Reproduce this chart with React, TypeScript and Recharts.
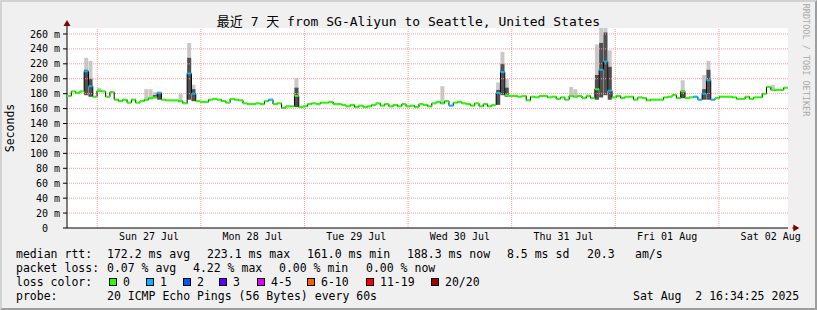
import React from 'react';
import { ComposedChart, Line, Bar, XAxis, YAxis, CartesianGrid, ReferenceDot, ReferenceLine } from 'recharts';

// median rtt per hour (ms), oldest first
const median = [
  177, 183, 181, 183, 210, 190, 176, 184, 183, 176,
  182, 172, 170, 172, 168, 172, 168, 170, 172, 174,
  175, 181, 172, 171, 171, 171, 170, 167, 207, 180,
  170, 169, 169, 172, 173, 172, 170, 168, 173, 172,
  171, 167, 166, 166, 167, 166, 170, 172, 166, 167,
  161, 163, 163, 177, 162, 163, 166, 167, 166, 168,
  168, 169, 166, 166, 165, 163, 165, 162, 164, 162,
  163, 165, 167, 164, 166, 163, 165, 163, 166, 163,
  164, 162, 166, 165, 163, 167, 169, 167, 170, 164,
  168, 169, 167, 166, 164, 167, 163, 166, 163, 165,
  181, 209, 178, 177, 177, 176, 177, 171, 176, 175,
  177, 177, 175, 176, 173, 175, 172, 177, 176, 177,
  174, 177, 174, 186, 212, 223, 184, 175, 177, 174,
  176, 176, 172, 175, 174, 171, 172, 172, 172, 175,
  176, 178, 174, 183, 174, 175, 176, 172, 180, 198,
  172, 174, 176, 176, 176, 175, 173, 173, 176, 173,
  175, 175, 180, 189, 185, 185, 185, 188,
];

// hours with packet loss, and how many of 20 pings were lost
const lossHours = [4, 5, 21, 28, 29, 47, 89, 100, 101, 124, 125, 126, 146, 147, 148, 149, 150];
const lossCounts = [1, 1, 1, 1, 1, 1, 1, 1, 1, 1, 1, 1, 1, 1, 1, 1, 1];

// smoke (spread of the pings) where it is visible
const smokeHours = [4, 5, 7, 18, 19, 20, 21, 26, 28, 29, 53, 87, 100, 101, 102, 117, 118, 123, 124, 125, 126, 143, 148, 149, 164];
const smokeLow = [178, 176, 182, 170, 172, 174, 172, 168, 172, 170, 162, 166, 165, 178, 176, 175, 175, 172, 175, 178, 172, 174, 172, 172, 184];
const smokeMid = [212, 200, 182, 170, 172, 178, 180, 168, 228, 186, 188, 166, 185, 220, 188, 175, 175, 205, 248, 262, 216, 184, 186, 212, 184];
const smokeHigh = [228, 224, 188, 186, 186, 182, 183, 180, 248, 192, 201, 190, 195, 236, 200, 189, 186, 246, 268, 268, 238, 198, 205, 224, 192];

const dayLabels = ['Sun 27 Jul', 'Mon 28 Jul', 'Tue 29 Jul', 'Wed 30 Jul', 'Thu 31 Jul', 'Fri 01 Aug', 'Sat 02 Aug'];
const labelHours = [19, 43, 67, 91, 115, 139, 163];
const midnightHours = [7, 31, 55, 79, 103, 127, 151];
const sixHourTicks = [1, 13, 19, 25, 37, 43, 49, 61, 67, 73, 85, 91, 97, 109, 115, 121, 133, 139, 145, 157, 163];
const majorTicks = [0, 20, 40, 60, 80, 100, 120, 140, 160, 180, 200, 220, 240, 260];
const minorTicks = [10, 30, 50, 70, 90, 110, 130, 150, 170, 190, 210, 230, 250];

const rttStats = ['172.2 ms avg', '223.1 ms max', '161.0 ms min', '188.3 ms now', '8.5 ms sd', '20.3', 'am/s'];
const lossStats = ['0.07 % avg', '4.22 % max', '0.00 % min', '0.00 % now'];
const lossLabels = ['0', '1', '2', '3', '4-5', '6-10', '11-19', '20/20'];
const lossColors = ['#26ff00', '#00b8ff', '#0059ff', '#5e00ff', '#dd00ff', '#ff5e00', '#ff0000', '#a10000'];

const FONT = '"DejaVu Sans Mono", "Noto Sans CJK SC", monospace';
const W = 817;
const H = 310;
const MARGIN = { top: 28, right: 29, bottom: 62, left: 7 };
const Y_AXIS_W = 60;
const X_AXIS_H = 20;
const PLOT_W = W - MARGIN.left - MARGIN.right - Y_AXIS_W;
const PLOT_H = H - MARGIN.top - MARGIN.bottom - X_AXIS_H;
const BAND = PLOT_W / median.length;
const MAJOR_GRID = '#ff9a9a';

const lossBucket = (n: number) => {
  if (n <= 3) return n;
  if (n <= 5) return 4;
  if (n <= 10) return 5;
  if (n <= 19) return 6;
  return 7;
};

const rows = median.map((m, i) => {
  const li = lossHours.indexOf(i);
  const si = smokeHours.indexOf(i);
  return {
    h: i,
    median: m,
    loss: li >= 0 ? lossCounts[li] : 0,
    lo: si >= 0 ? smokeLow[si] : null,
    mid: si >= 0 ? smokeMid[si] : null,
    hi: si >= 0 ? smokeHigh[si] : null,
  };
});

const dayLabel = (v: number) => dayLabels[labelHours.indexOf(v)] ?? '';
const msLabel = (v: number) => (v === 0 ? '0\u00a0\u00a0' : `${v} m`);
const smokeRange = (d: any) => (d.hi == null ? null : [d.lo, d.hi]);
const smokeCore = (d: any) => (d.mid == null || d.mid <= d.lo ? null : [d.lo, d.mid]);

const renderSeg = (props: any) => {
  const { cx, cy, index, payload } = props;
  if (cx == null || cy == null) return <g key={index} />;
  return (
    <rect key={index} x={cx - BAND / 2} y={cy - 1} width={BAND} height={2} fill={lossColors[lossBucket(payload.loss)]} />
  );
};

const ArrowUp = (props: any) => (
  <g>
    <line x1={props.cx} y1={props.cy} x2={props.cx} y2={props.cy - 3} stroke="#000" />
    <polygon points={`${props.cx - 3.5},${props.cy - 2} ${props.cx + 3.5},${props.cy - 2} ${props.cx},${props.cy - 8}`} fill="#7f0000" />
  </g>
);

const ArrowRight = (props: any) => (
  <g>
    <line x1={props.cx} y1={props.cy} x2={props.cx + 2} y2={props.cy} stroke="#000" />
    <polygon points={`${props.cx + 1},${props.cy - 3.5} ${props.cx + 1},${props.cy + 3.5} ${props.cx + 7},${props.cy}`} fill="#7f0000" />
  </g>
);

const txt = (left: number, center: number, s: string) => (
  <div
    style={{
      position: 'absolute', left, top: center - 7, lineHeight: '14px', fontSize: 11.5,
      fontFamily: FONT, whiteSpace: 'pre', color: '#000',
    }}
  >
    {s}
  </div>
);

const tickStyle = { fontSize: 10, fill: '#000', fontFamily: FONT };

export default function App() {
  const rttPos = [107, 207, 307, 407, 507, 587, 635];
  const lossPos = [107, 193, 279, 366];
  const boxPos = [109, 146, 183, 219, 257, 307, 366, 431];

  return (
    <div style={{ position: 'absolute', left: 0, top: 0, width: W, height: H, overflow: 'hidden' }}>
      <div
        style={{
          position: 'absolute', left: 0, top: 0, width: W, height: H, boxSizing: 'border-box',
          background: '#f0f0f0', borderTop: '2px solid #d2d2d2', borderLeft: '2px solid #d2d2d2',
          borderRight: '2px solid #9e9e9e', borderBottom: '2px solid #9e9e9e',
        }}
      />
      {/* white canvas behind the plot area */}
      <div style={{ position: 'absolute', left: MARGIN.left + Y_AXIS_W, top: MARGIN.top, width: PLOT_W, height: PLOT_H, background: '#ffffff' }} />
      <ComposedChart
        width={W}
        height={H}
        data={rows}
        margin={MARGIN}
        barCategoryGap={0}
        barGap={0}
        style={{ position: 'absolute', left: 0, top: 0 }}
      >
        <XAxis xAxisId="a" type="number" domain={[0, 168]} allowDataOverflow ticks={labelHours} interval={0}
          tickFormatter={dayLabel} tickLine={false} tickSize={0} tickMargin={5}
          height={X_AXIS_H} axisLine={{ stroke: '#000' }} tick={tickStyle} />
        <XAxis xAxisId="c" dataKey="h" type="category" hide height={0} />
        <XAxis xAxisId="c2" dataKey="h" type="category" hide height={0} />
        <XAxis xAxisId="tmin" type="number" domain={[0, 168]} allowDataOverflow ticks={sixHourTicks} interval={0}
          height={0} axisLine={false} tick={false} tickLine={false} />
        <YAxis yAxisId="v" type="number" domain={[0, 268]} allowDataOverflow ticks={majorTicks} interval={0} width={Y_AXIS_W}
          tickFormatter={msLabel} tickSize={4} tickMargin={3}
          axisLine={{ stroke: '#000' }} tickLine={{ stroke: '#000' }} tick={tickStyle} />
        <YAxis yAxisId="vmin" type="number" domain={[0, 268]} allowDataOverflow ticks={minorTicks} interval={0}
          width={0} axisLine={false} tick={false} tickLine={false} />

        <CartesianGrid xAxisId="tmin" yAxisId="vmin" stroke="#cccccc" strokeDasharray="1 1" syncWithTicks />
        {midnightHours.map((h) => (
          <ReferenceLine key={`mx${h}`} xAxisId="a" yAxisId="v" x={h} stroke={MAJOR_GRID} strokeDasharray="1 1" />
        ))}
        {majorTicks.filter((v) => v > 0).map((v) => (
          <ReferenceLine key={`my${v}`} xAxisId="a" yAxisId="v" y={v} stroke={MAJOR_GRID} strokeDasharray="1 1" />
        ))}

        <Bar xAxisId="c" yAxisId="v" dataKey={smokeRange} fill="#c8c8c8" isAnimationActive={false} />
        <Bar xAxisId="c2" yAxisId="v" dataKey={smokeCore} fill="#505050" isAnimationActive={false} />
        <Line xAxisId="c" yAxisId="v" type="step" dataKey="median" stroke="#000" strokeWidth={1} dot={renderSeg}
          activeDot={false} isAnimationActive={false} />

        <ReferenceDot xAxisId="a" yAxisId="v" x={0} y={268} ifOverflow="visible" shape={ArrowUp} />
        <ReferenceDot xAxisId="a" yAxisId="v" x={168} y={0} ifOverflow="visible" shape={ArrowRight} />
      </ComposedChart>

      <div style={{ position: 'absolute', left: 0, top: 13, width: W, textAlign: 'center', fontSize: 13, lineHeight: '17px', fontFamily: FONT, whiteSpace: 'pre', color: '#000' }}>
        最近 7 天 from SG-Aliyun to Seattle, United States
      </div>
      <div style={{ position: 'absolute', left: 10, top: 128, transform: 'translate(-50%, -50%) rotate(-90deg)', fontSize: 11.5, fontFamily: FONT, whiteSpace: 'pre', color: '#000' }}>
        Seconds
      </div>
      <div style={{ position: 'absolute', left: 806, top: 60, transform: 'translate(-50%, -50%) rotate(90deg)', fontSize: 8.5, fontFamily: FONT, whiteSpace: 'pre', color: '#aaaaaa' }}>
        RRDTOOL / TOBI OETIKER
      </div>

      {txt(16, 254, 'median rtt:')}
      {rttStats.map((s, i) => <React.Fragment key={s + i}>{txt(rttPos[i], 254, s)}</React.Fragment>)}
      {txt(16, 268, 'packet loss:')}
      {lossStats.map((s, i) => <React.Fragment key={s + i}>{txt(lossPos[i], 268, s)}</React.Fragment>)}
      {txt(16, 282, 'loss color:')}
      {lossLabels.map((s, i) => (
        <React.Fragment key={s}>
          <div style={{ position: 'absolute', left: boxPos[i], top: 278, width: 8, height: 8, boxSizing: 'border-box', border: '1px solid #000', background: lossColors[i] }} />
          {txt(boxPos[i] + 14, 282, s)}
        </React.Fragment>
      ))}
      {txt(16, 296, 'probe:')}
      {txt(107, 296, '20 ICMP Echo Pings (56 Bytes) every 60s')}
      {txt(633, 296, 'Sat Aug  2 16:34:25 2025')}
    </div>
  );
}
